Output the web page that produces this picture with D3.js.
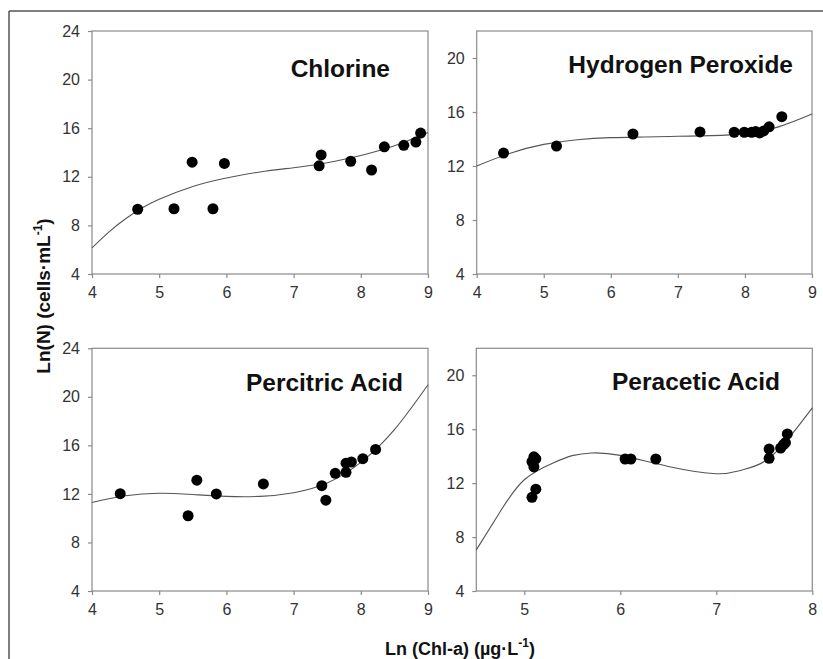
<!DOCTYPE html>
<html>
<head>
<meta charset="utf-8">
<script src="https://cdn.jsdelivr.net/npm/d3@7"></script>
<style>
  html, body { margin: 0; padding: 0; background: #fff; }
  svg { display: block; font-family: Arial, "Liberation Sans", sans-serif; }
</style>
</head>
<body>
<svg id="chart" width="823" height="659"></svg>
<script>
// ---------- DATA ----------
const panelTitles = ["Chlorine", "Hydrogen Peroxide", "Percitric Acid", "Peracetic Acid"];

const yTicksA = [4, 8, 12, 16, 20, 24];
const yTicksB = [4, 8, 12, 16, 20];
const xTicksA = [4, 5, 6, 7, 8, 9];
const xTicksB = [5, 6, 7, 8];

// Chlorine
const chlorineX = [4.68, 5.22, 5.49, 5.80, 5.97, 7.38, 7.41, 7.85, 8.16, 8.35, 8.64, 8.82, 8.89];
const chlorineY = [9.33, 9.37, 13.2, 9.37, 13.1, 12.9, 13.8, 13.28, 12.56, 14.47, 14.59, 14.86, 15.6];
const chlorineFitX = [4.0, 4.25, 4.5, 4.75, 5.0, 5.5, 6.0, 6.5, 7.0, 7.5, 8.0, 8.5, 9.0];
const chlorineFitY = [6.15, 7.45, 8.55, 9.45, 10.15, 11.2, 11.9, 12.4, 12.75, 13.15, 13.75, 14.55, 15.65];

// Hydrogen Peroxide
const peroxideX = [4.40, 5.19, 6.33, 7.33, 7.84, 7.99, 8.10, 8.16, 8.22, 8.28, 8.36, 8.55];
const peroxideY = [12.96, 13.48, 14.37, 14.52, 14.5, 14.5, 14.5, 14.55, 14.45, 14.6, 14.9, 15.65];
const peroxideFitX = [4.0, 4.5, 5.0, 5.5, 6.0, 6.5, 7.0, 7.5, 8.0, 8.5, 9.0];
const peroxideFitY = [12.0, 12.95, 13.6, 13.95, 14.1, 14.15, 14.2, 14.25, 14.4, 14.9, 15.85];

// Percitric Acid
const percitricX = [4.42, 5.43, 5.56, 5.85, 6.55, 7.42, 7.48, 7.62, 7.78, 7.78, 7.86, 8.03, 8.22];
const percitricY = [12.02, 10.2, 13.13, 12.0, 12.82, 12.68, 11.48, 13.7, 13.78, 14.53, 14.63, 14.9, 15.67];
const percitricFitX = [4.0, 4.5, 5.0, 5.5, 6.0, 6.5, 7.0, 7.5, 8.0, 8.5, 9.0];
const percitricFitY = [11.3, 11.85, 12.05, 11.95, 11.8, 11.8, 12.1, 12.9, 14.6, 17.3, 21.0];

// Peracetic Acid
const peraceticX = [5.08, 5.12, 5.10, 5.08, 5.12, 5.10, 6.05, 6.11, 6.37, 7.55, 7.55, 7.67, 7.70, 7.72, 7.74];
const peraceticY = [10.95, 11.55, 13.2, 13.6, 13.8, 13.95, 13.79, 13.79, 13.79, 14.53, 13.84, 14.6, 14.85, 15.0, 15.65];
const peraceticFitX = [4.5, 4.75, 5.0, 5.3, 5.5, 5.7, 6.0, 6.5, 7.0, 7.25, 7.5, 7.75, 8.0];
const peraceticFitY = [7.05, 9.9, 12.25, 13.5, 14.04, 14.24, 14.06, 13.24, 12.7, 12.94, 13.6, 15.3, 17.58];

// ---------- LAYOUT ----------
const svg = d3.select("#chart");

// outer figure frame (top and left edges)
svg.append("line").attr("x1", 9).attr("x2", 823).attr("y1", 11).attr("y2", 11)
  .attr("stroke", "#555").attr("stroke-width", 1.5);
svg.append("line").attr("x1", 9).attr("x2", 9).attr("y1", 11).attr("y2", 659)
  .attr("stroke", "#555").attr("stroke-width", 1.5);

const panels = [
  { title: panelTitles[0], x: chlorineX, y: chlorineY, fx: chlorineFitX, fy: chlorineFitY,
    xd: [4, 9], yd: [4, 24], xt: xTicksA, yt: yTicksA,
    box: [92, 31, 428, 274], titleX: 390, titleY: 77 },
  { title: panelTitles[1], x: peroxideX, y: peroxideY, fx: peroxideFitX, fy: peroxideFitY,
    xd: [4, 9], yd: [4, 22], xt: xTicksA, yt: yTicksB,
    box: [476.7, 31, 812, 274], titleX: 793, titleY: 73 },
  { title: panelTitles[2], x: percitricX, y: percitricY, fx: percitricFitX, fy: percitricFitY,
    xd: [4, 9], yd: [4, 24], xt: xTicksA, yt: yTicksA,
    box: [92, 348.3, 428, 591], titleX: 403, titleY: 391 },
  { title: panelTitles[3], x: peraceticX, y: peraceticY, fx: peraceticFitX, fy: peraceticFitY,
    xd: [4.5, 8], yd: [4, 22], xt: xTicksB, yt: yTicksB,
    box: [476.3, 348.3, 812.3, 591], titleX: 780, titleY: 390 }
];

const axisColor = "#8a8a8a";
const tickTextColor = "#333";

panels.forEach(p => {
  const [x0, y0, x1, y1] = p.box;
  const xs = d3.scaleLinear().domain(p.xd).range([x0, x1]);
  const ys = d3.scaleLinear().domain(p.yd).range([y1, y0]);
  const g = svg.append("g");

  // frame
  g.append("rect").attr("x", x0).attr("y", y0).attr("width", x1 - x0).attr("height", y1 - y0)
    .attr("fill", "none").attr("stroke", axisColor).attr("stroke-width", 1.2);

  const ax = g.append("g").attr("transform", `translate(0,${y1})`)
    .call(d3.axisBottom(xs).tickValues(p.xt).tickSize(4).tickPadding(9).tickFormat(d3.format("d")));
  const ay = g.append("g").attr("transform", `translate(${x0},0)`)
    .call(d3.axisLeft(ys).tickValues(p.yt).tickSize(4).tickPadding(8).tickFormat(d3.format("d")));
  [ax, ay].forEach(a => {
    a.select(".domain").remove();
    a.selectAll(".tick line").attr("stroke", axisColor).attr("stroke-width", 1.2);
    a.selectAll(".tick text").attr("fill", tickTextColor).style("font-size", "16px")
      .style("font-family", "Arial, 'Liberation Sans', sans-serif");
  });

  // fitted curve
  const fitPts = p.fx.map((v, i) => [v, p.fy[i]]);
  g.append("path").datum(fitPts)
    .attr("d", d3.line().x(d => xs(d[0])).y(d => ys(d[1])).curve(d3.curveNatural))
    .attr("fill", "none").attr("stroke", "#555").attr("stroke-width", 1.1);

  // points
  g.selectAll("circle.pt").data(p.x.map((v, i) => [v, p.y[i]])).enter()
    .append("circle").attr("class", "pt")
    .attr("cx", d => xs(d[0])).attr("cy", d => ys(d[1])).attr("r", 5.5)
    .attr("fill", "#000");

  // title
  g.append("text").attr("x", p.titleX).attr("y", p.titleY).attr("text-anchor", "end")
    .style("font-size", "24.5px").style("font-weight", "bold").attr("fill", "#111")
    .text(p.title);
});

// axis titles
const yLab = svg.append("text")
  .attr("transform", "translate(50,296) rotate(-90)")
  .attr("text-anchor", "middle")
  .style("font-size", "19px").style("font-weight", "bold").attr("fill", "#111");
yLab.append("tspan").text("Ln(N) (cells·mL");
yLab.append("tspan").attr("dy", -8).style("font-size", "12px").text("-1");
yLab.append("tspan").attr("dy", 8).text(")");

const xLab = svg.append("text")
  .attr("x", 460).attr("y", 655)
  .attr("text-anchor", "middle")
  .style("font-size", "18px").style("font-weight", "bold").attr("fill", "#111");
xLab.append("tspan").text("Ln (Chl-a) (µg·L");
xLab.append("tspan").attr("dy", -8).style("font-size", "12px").text("-1");
xLab.append("tspan").attr("dy", 8).text(")");
</script>
</body>
</html>
